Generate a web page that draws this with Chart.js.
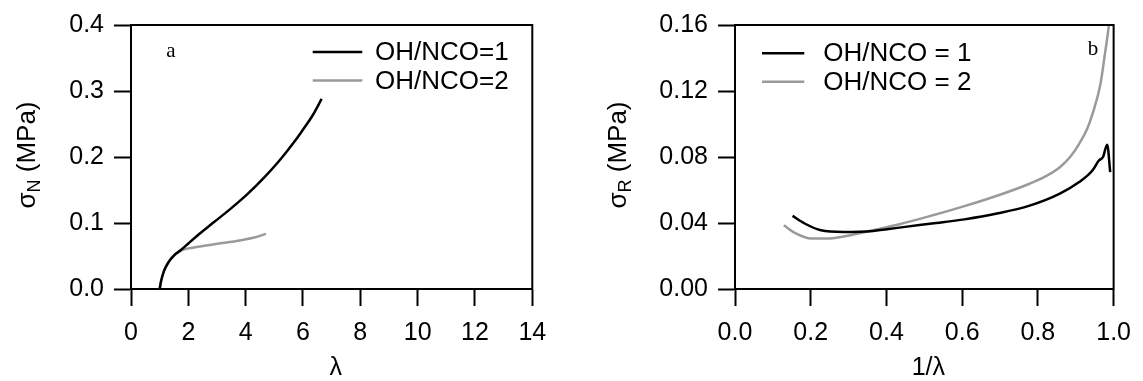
<!DOCTYPE html>
<html><head><meta charset="utf-8">
<script src="https://cdn.jsdelivr.net/npm/chart.js@4"></script>
<style>
html,body{margin:0;padding:0;background:#fff;overflow:hidden}
#wrap{position:relative;width:1143px;height:381px;background:#fff}
.pane{position:absolute;top:0;height:381px}
canvas{display:block}
</style></head><body>
<div id="wrap">
<div class="pane" style="left:0;width:571px"><canvas id="ca" width="571" height="381"></canvas></div>
<div class="pane" style="left:571px;width:572px"><canvas id="cb" width="572" height="381"></canvas></div>
</div>
<script>
// ---- Panel a data: nominal stress vs stretch ratio ----
const aSeriesLabels = ['OH/NCO=1', 'OH/NCO=2'];
const aLambda1 = [1.0, 1.05, 1.15, 1.3, 1.5, 1.74, 2.0, 2.33, 2.91, 3.49, 4.07, 4.65, 5.12, 5.47, 5.75, 6.01, 6.35, 6.65];
const aSigma1  = [0.0, 0.012, 0.027, 0.040, 0.051, 0.059, 0.069, 0.0815, 0.1018, 0.1221, 0.1441, 0.1691, 0.1917, 0.2103, 0.2260, 0.2420, 0.2640, 0.288];
const aLambda2 = [1.0, 1.05, 1.16, 1.4, 1.74, 2.0, 2.33, 3.02, 3.84, 4.3, 4.71];
const aSigma2  = [0.0, 0.012, 0.029, 0.046, 0.058, 0.0615, 0.064, 0.0685, 0.0740, 0.0780, 0.0835];
const aXTicks = ['0', '2', '4', '6', '8', '10', '12', '14'];
const aYTicks = ['0.0', '0.1', '0.2', '0.3', '0.4'];

// ---- Panel b data: reduced stress vs 1/lambda ----
const bSeriesLabels = ['OH/NCO = 1', 'OH/NCO = 2'];
const bInv1   = [0.152, 0.184, 0.227, 0.287, 0.365, 0.434, 0.520, 0.606, 0.692, 0.778, 0.858, 0.909, 0.944, 0.961, 0.972, 0.983, 0.991];
const bSigma1 = [0.0443, 0.0397, 0.0356, 0.0346, 0.0352, 0.0372, 0.0397, 0.0422, 0.0457, 0.0505, 0.0578, 0.0648, 0.0718, 0.0779, 0.080, 0.0875, 0.0708];
const bInv2   = [0.129, 0.158, 0.201, 0.244, 0.304, 0.365, 0.434, 0.520, 0.606, 0.692, 0.778, 0.820, 0.858, 0.885, 0.909, 0.930, 0.944, 0.965, 0.978, 0.987, 0.990];
const bSigma2 = [0.0386, 0.034, 0.0306, 0.0306, 0.0326, 0.0356, 0.0392, 0.0445, 0.0502, 0.0565, 0.0638, 0.0682, 0.0738, 0.0800, 0.0880, 0.0970, 0.106, 0.124, 0.144, 0.159, 0.166];
const bXTicks = ['0.0', '0.2', '0.4', '0.6', '0.8', '1.0'];
const bYTicks = ['0.00', '0.04', '0.08', '0.12', '0.16'];

const SANS = "'Liberation Sans', Arial, Helvetica, sans-serif";
const SERIF = "'Liberation Serif', 'Times New Roman', serif";
const BLACK = '#000000';
const GRAY = '#9a9a9a';

const zip = (xs, ys) => xs.map((x, i) => ({x, y: ys[i]}));

const decor = {
  id: 'decor',
  afterDraw(chart, args, o) {
    const ctx = chart.ctx, a = chart.chartArea;
    ctx.save();
    // top & right frame
    ctx.strokeStyle = '#000'; ctx.lineWidth = 2;
    ctx.beginPath();
    ctx.moveTo(a.left - 1, a.top); ctx.lineTo(a.right, a.top); ctx.lineTo(a.right, a.bottom + 1);
    ctx.stroke();
    // legend
    ctx.font = '26px ' + SANS;
    ctx.textBaseline = 'middle'; ctx.textAlign = 'left'; ctx.fillStyle = '#000';
    chart.data.datasets.forEach((ds, i) => {
      const y = o.legendRows[i];
      ctx.strokeStyle = ds.borderColor; ctx.lineWidth = ds.borderWidth;
      ctx.beginPath(); ctx.moveTo(o.legendLine[0], y); ctx.lineTo(o.legendLine[1], y); ctx.stroke();
      ctx.fillText(ds.label, o.legendText, y + 1);
    });
    // panel letter
    ctx.font = '21px ' + SERIF; ctx.textAlign = 'center'; ctx.textBaseline = 'alphabetic';
    ctx.fillText(o.letter, o.letterPos[0], o.letterPos[1]);
    // x title
    ctx.font = '25px ' + SANS; ctx.textBaseline = 'middle';
    ctx.fillText(o.xTitle, (a.left + a.right) / 2 + 4, o.xTitleY);
    // y title with subscript (rotated)
    ctx.translate(o.yTitleX, (a.top + a.bottom) / 2 - 2);
    ctx.rotate(-Math.PI / 2);
    const f1 = '26px ' + SANS, f2 = '18px ' + SANS;
    ctx.font = f1; const w1 = ctx.measureText(o.yMain).width, w3 = ctx.measureText(o.yRest).width;
    ctx.font = f2; const w2 = ctx.measureText(o.ySub).width;
    let x = -(w1 + w2 + w3) / 2;
    ctx.textAlign = 'left';
    ctx.font = f1; ctx.fillText(o.yMain, x, 0); x += w1;
    ctx.font = f2; ctx.fillText(o.ySub, x, 7); x += w2;
    ctx.font = f1; ctx.fillText(o.yRest, x, 0);
    ctx.restore();
  }
};

function axis(min, max, step, labels, fit, isX) {
  return {
    type: 'linear', min, max,
    ticks: {
      stepSize: step, color: '#000', padding: isX ? 12 : 10, autoSkip: false, maxRotation: 0,
      font: {family: SANS, size: 25},
      callback: (v) => labels[Math.round((v - min) / step)]
    },
    grid: {drawOnChartArea: false, drawTicks: true, tickLength: 17, tickWidth: 2, color: '#000'},
    border: {display: true, color: '#000', width: 2},
    afterFit(s) { if (isX) s.height = fit; else s.width = fit; }
  };
}

function makeChart(id, series, labels, xs, ys, padRight, deco) {
  return new Chart(document.getElementById(id), {
    type: 'scatter',
    data: {
      datasets: series.map((pts, i) => ({
        label: labels[i], data: pts, showLine: true, pointRadius: 0,
        borderColor: i === 0 ? BLACK : GRAY, borderWidth: 2.5,
        cubicInterpolationMode: 'monotone', fill: false
      }))
    },
    options: {
      responsive: false, animation: false, devicePixelRatio: 1,
      layout: {padding: {left: 0, top: 24, right: padRight, bottom: 0}},
      plugins: {legend: {display: false}, tooltip: {enabled: false}, decor: deco},
      scales: {x: xs, y: ys}
    },
    plugins: [decor]
  });
}

makeChart('ca',
  [zip(aLambda1, aSigma1), zip(aLambda2, aSigma2)], aSeriesLabels,
  axis(0, 14, 2, aXTicks, 92, true), axis(0, 0.4, 0.1, aYTicks, 131, false),
  38.7,
  {legendRows: [52, 80.5], legendLine: [312.7, 362.3], legendText: 375,
   letter: 'a', letterPos: [171, 57], xTitle: 'λ', xTitleY: 368,
   yTitleX: 28, yMain: 'σ', ySub: 'N', yRest: ' (MPa)'});

makeChart('cb',
  [zip(bInv1, bSigma1), zip(bInv2, bSigma2)], bSeriesLabels,
  axis(0, 1, 0.2, bXTicks, 92, true), axis(0, 0.16, 0.04, bYTicks, 164, false),
  21.3,
  {legendRows: [53.3, 81.7], legendLine: [191, 233.3], legendText: 252.3,
   letter: 'b', letterPos: [522, 55], xTitle: '1/λ', xTitleY: 368,
   yTitleX: 48.3, yMain: 'σ', ySub: 'R', yRest: ' (MPa)'});
</script>
</body></html>
